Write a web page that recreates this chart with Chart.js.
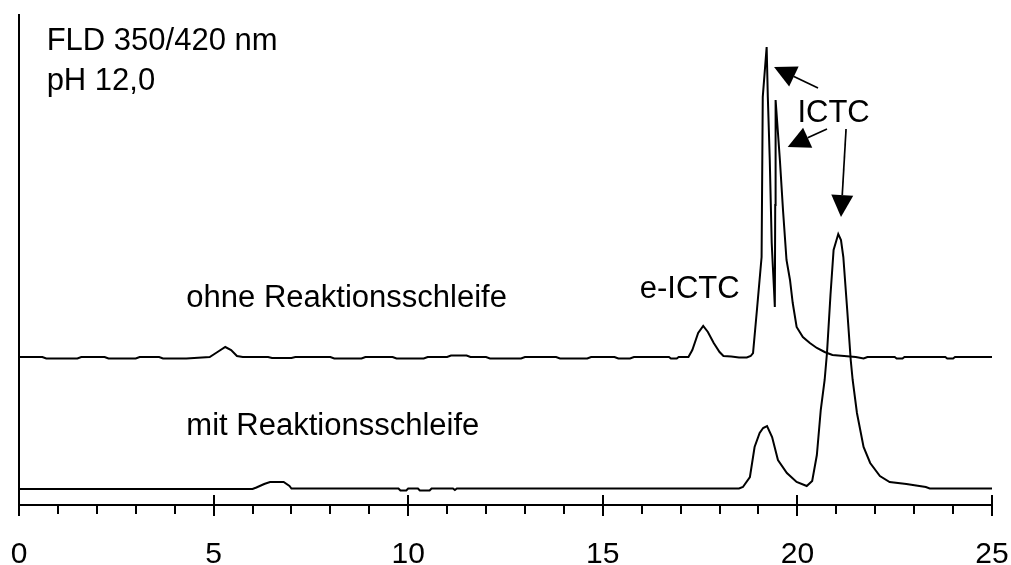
<!DOCTYPE html>
<html>
<head>
<meta charset="utf-8">
<script src="https://cdn.jsdelivr.net/npm/chart.js@4.4.1/dist/chart.umd.min.js"></script>
<style>
  html, body { margin: 0; padding: 0; background: #ffffff; }
  #c { display: block; }
</style>
</head>
<body>
<canvas id="c" width="1011" height="565"></canvas>
<script>
// ---- data (retention time in min, detector signal in arbitrary units) ----
const upperTime = [0,0.6,0.7,1.5,1.6,2.2,2.3,3.0,3.1,3.6,3.7,4.3,4.5,4.9,5.1,5.3,5.45,5.6,5.75,6.4,6.5,7.0,7.1,8.0,8.1,8.8,8.9,9.6,9.7,10.4,10.5,11.0,11.1,11.5,11.6,12.0,12.1,12.9,13.0,13.8,13.9,14.6,14.7,15.3,15.4,15.7,15.8,16.7,16.75,16.9,16.95,17.2,17.3,17.45,17.58,17.7,17.85,18.0,18.1,18.3,18.5,18.7,18.8,18.86,18.96,19.08,19.11,19.21,19.24,19.29,19.34,19.37,19.40,19.42,19.43,19.44,19.55,19.63,19.72,19.81,19.88,19.98,20.14,20.32,20.5,20.7,20.9,21.2,21.5,21.7,21.8,22.5,22.55,22.7,22.75,23.8,23.85,24.0,24.05,25];
const upperSignal = [148,148,146.5,146.5,148,148,146.5,146.5,148,148,146.5,146.5,147,148,153,158,155,149,148,148,147,147,148,148,146.5,146.5,148,148,146.5,146.5,148,148,149.5,149.5,148,148,146.5,146.5,148,148,146.5,146.5,148,148,146.5,146.5,148,148,146.5,146.5,148,148,155,172,179,173,162,153,149,148.5,147.5,147.5,149,152,195,248,408,458,408,345,262,238,215,198,300,405,345,295,245,225,202,178,168,162,157,153,150,149,148,146.5,148,148,146.5,146.5,148,148,146.5,146.5,148,148];

const lowerTime = [0,6.0,6.1,6.3,6.45,6.8,6.95,7.0,9.75,9.8,9.95,10.0,10.25,10.3,10.55,10.6,11.15,11.2,11.25,18.5,18.6,18.78,18.9,19.03,19.12,19.22,19.35,19.5,19.73,19.98,20.24,20.38,20.5,20.6,20.7,20.76,20.85,20.93,21.05,21.12,21.18,21.28,21.37,21.42,21.53,21.7,21.87,22.12,22.37,22.8,23.3,23.4,25];
const lowerSignal = [16,16,17.5,21,23,23,19,16.5,16.5,14.5,14.5,16.5,16.5,14.5,14.5,16.5,16.5,15,16.5,16.5,18,28,58,72,77,79,68,45,32,23,19,24,50,95,125,152,210,255,271,265,248,195,145,125,92,58,42,29,23,21,18,16.5,16.5];

const xTickLabels = [0, 5, 10, 15, 20, 25];
const minorTicks = [1,2,3,4,6,7,8,9,11,12,13,14,16,17,18,19,21,22,23,24];

// annotation texts and their anchor points in data units
const noteTexts = ['FLD 350/420 nm', 'pH 12,0', 'ohne Reaktionsschleife', 'e-ICTC', 'ICTC', 'mit Reaktionsschleife'];
const noteX     = [0.71, 0.71, 4.3, 15.95, 20.0, 4.3];
const noteY     = [455, 415, 198, 206.7, 383, 70];

// arrows: start -> tip, data units
const arrowFromX = [20.53, 20.76, 21.25];
const arrowFromY = [417, 376, 376];
const arrowToX   = [19.40, 19.75, 21.12];
const arrowToY   = [438, 358, 288];

const FONT = '"Liberation Sans", Arial, Helvetica, sans-serif';

function toPts(xs, ys) { return xs.map((x, i) => ({ x: x, y: ys[i] })); }

const annotations = {
  id: 'annotations',
  afterDraw(chart) {
    const ctx = chart.ctx;
    const xs = chart.scales.x, ys = chart.scales.y;
    const area = chart.chartArea;
    ctx.save();
    // tick marks
    ctx.strokeStyle = '#000';
    ctx.lineWidth = 2;
    ctx.beginPath();
    xTickLabels.forEach(v => {
      const px = Math.round(xs.getPixelForValue(v));
      ctx.moveTo(px, area.bottom - 10);
      ctx.lineTo(px, area.bottom + 11);
    });
    minorTicks.forEach(v => {
      const px = Math.round(xs.getPixelForValue(v));
      ctx.moveTo(px, area.bottom);
      ctx.lineTo(px, area.bottom + 9);
    });
    ctx.stroke();

    // texts
    ctx.fillStyle = '#000';
    ctx.font = '31px ' + FONT;
    ctx.textAlign = 'left';
    ctx.textBaseline = 'alphabetic';
    noteTexts.forEach((t, i) => {
      ctx.fillText(t, xs.getPixelForValue(noteX[i]), ys.getPixelForValue(noteY[i]));
    });

    // arrows
    ctx.lineWidth = 1.7;
    for (let i = 0; i < arrowFromX.length; i++) {
      const x1 = xs.getPixelForValue(arrowFromX[i]), y1 = ys.getPixelForValue(arrowFromY[i]);
      const x2 = xs.getPixelForValue(arrowToX[i]), y2 = ys.getPixelForValue(arrowToY[i]);
      const ang = Math.atan2(y2 - y1, x2 - x1);
      const len = 22, half = 11;
      const bx = x2 - len * Math.cos(ang), by = y2 - len * Math.sin(ang);
      ctx.beginPath();
      ctx.moveTo(x1, y1);
      ctx.lineTo(bx, by);
      ctx.stroke();
      ctx.beginPath();
      ctx.moveTo(x2, y2);
      ctx.lineTo(bx + half * Math.sin(ang), by - half * Math.cos(ang));
      ctx.lineTo(bx - half * Math.sin(ang), by + half * Math.cos(ang));
      ctx.closePath();
      ctx.fill();
    }
    ctx.restore();
  }
};

new Chart(document.getElementById('c'), {
  type: 'line',
  data: {
    datasets: [
      { label: 'ohne Reaktionsschleife', data: toPts(upperTime, upperSignal), borderColor: '#000', borderWidth: 2, pointRadius: 0, tension: 0, fill: false },
      { label: 'mit Reaktionsschleife', data: toPts(lowerTime, lowerSignal), borderColor: '#000', borderWidth: 2, pointRadius: 0, tension: 0, fill: false }
    ]
  },
  options: {
    responsive: false,
    animation: false,
    devicePixelRatio: 1,
    layout: { padding: { left: 19, right: 19, top: 15, bottom: 0 } },
    plugins: { legend: { display: false }, tooltip: { enabled: false } },
    scales: {
      x: {
        type: 'linear',
        min: 0, max: 25,
        afterBuildTicks: (s) => { s.ticks = xTickLabels.map(v => ({ value: v })); },
        afterFit: (s) => { s.height = 60; },
        grid: { display: false, drawTicks: true, tickLength: 32 },
        border: { display: true, color: '#000', width: 2 },
        ticks: { color: '#000', padding: 0, maxRotation: 0, autoSkip: false, font: { family: FONT, size: 30 } }
      },
      y: {
        type: 'linear',
        min: 0, max: 490,
        afterFit: (s) => { s.width = 0; },
        grid: { display: false, drawTicks: false },
        border: { display: true, color: '#000', width: 2 },
        ticks: { display: false }
      }
    }
  },
  plugins: [annotations]
});
</script>
</body>
</html>
